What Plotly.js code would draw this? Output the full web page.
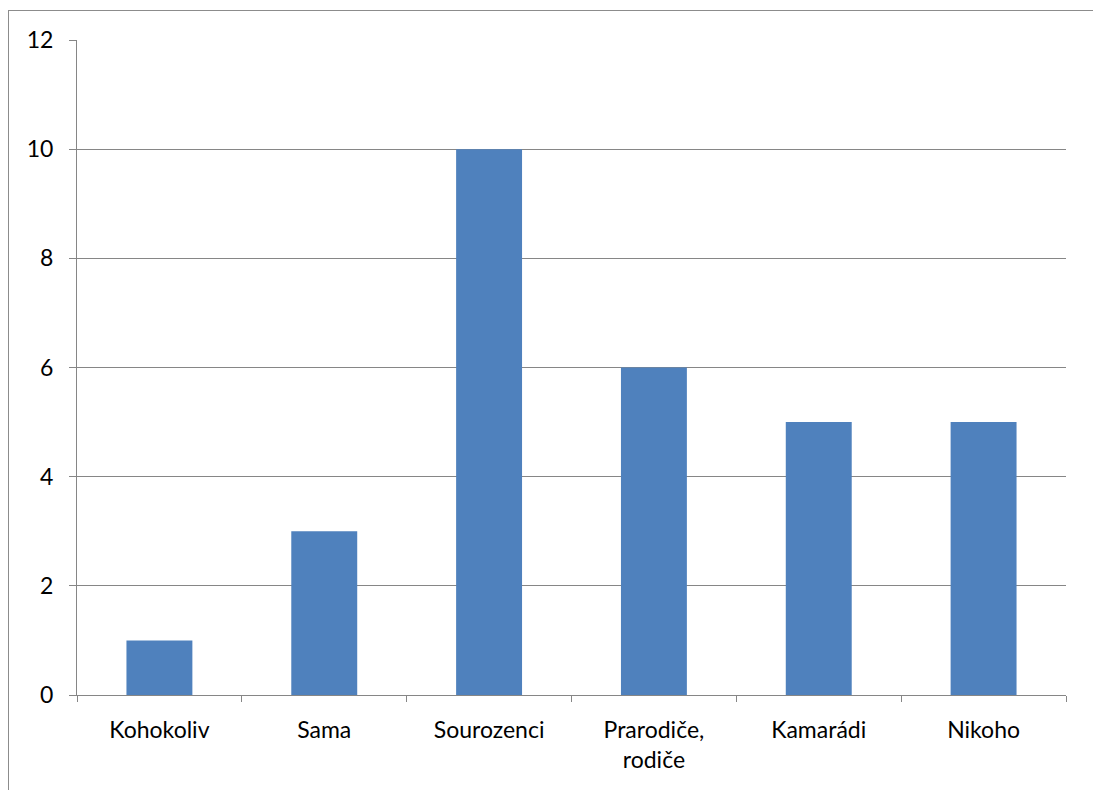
<!DOCTYPE html>
<html>
<head>
<meta charset="utf-8">
<script src="https://cdn.plot.ly/plotly-3.0.1.min.js"></script>
<style>
  html, body { margin: 0; padding: 0; background: #ffffff; }
  #frame {
    position: absolute; left: 8px; top: 10px; width: 1200px; height: 900px;
    border-left: 1px solid #8c8c8c; border-top: 1px solid #8c8c8c;
  }
  #chart { position: absolute; left: 0; top: 0; width: 1093px; height: 790px; }
</style>
</head>
<body>
<div id="frame"></div>
<div id="chart"></div>
<script>
// Who the respondent spends time with (counts)
const categories = ["Kohokoliv", "Sama", "Sourozenci", "Prarodiče,<br>rodiče", "Kamarádi", "Nikoho"];
const counts = [1, 3, 10, 6, 5, 5];
const yTicks = [0, 2, 4, 6, 8, 10, 12];

const axisGray = "#868686";
const fontFace = "Lato, 'Open Sans', sans-serif";
const fontSize = 23;

const trace = {
  type: "bar",
  x: categories,
  y: counts,
  marker: { color: "#4F81BD", line: { width: 0 } },
  width: 0.4,
  hoverinfo: "x+y"
};

const layout = {
  width: 1093,
  height: 790,
  margin: { l: 77, r: 27, t: 40, b: 95 },
  paper_bgcolor: "rgba(0,0,0,0)",
  plot_bgcolor: "rgba(0,0,0,0)",
  showlegend: false,
  font: { family: fontFace, size: fontSize, color: "#000000" },
  xaxis: {
    type: "category",
    showgrid: false,
    showline: true,
    linecolor: axisGray,
    linewidth: 1,
    ticks: "outside",
    tickson: "boundaries",
    ticklen: 6,
    tickcolor: axisGray,
    tickfont: { family: fontFace, size: fontSize, color: "#000000" },
    ticklabelstandoff: 14,
    zeroline: false
  },
  yaxis: {
    range: [0, 12],
    tickvals: yTicks,
    ticktext: yTicks.map(String),
    showgrid: true,
    gridcolor: axisGray,
    gridwidth: 1,
    showline: true,
    linecolor: axisGray,
    linewidth: 1,
    ticks: "outside",
    ticklen: 7,
    tickcolor: axisGray,
    tickfont: { family: fontFace, size: fontSize, color: "#000000" },
    ticklabelstandoff: 11,
    zeroline: false
  },
  bargap: 0.6
};

Plotly.newPlot("chart", [trace], layout, { displayModeBar: false, staticPlot: true });
</script>
</body>
</html>
